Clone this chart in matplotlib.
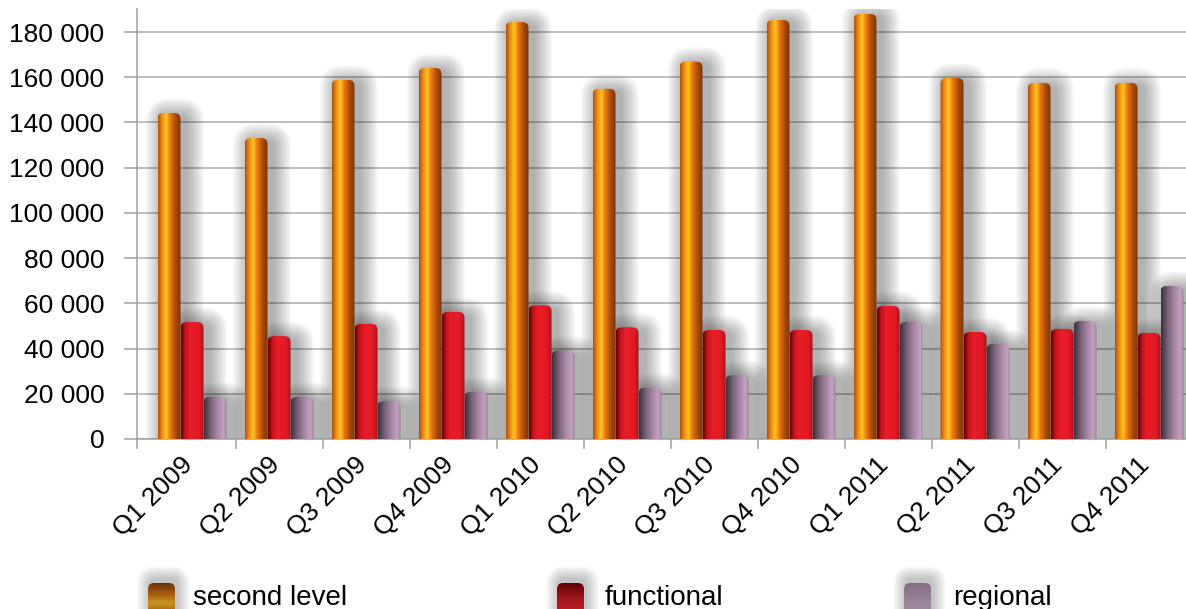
import numpy as np
import matplotlib.pyplot as plt
import matplotlib.transforms as mtransforms
from matplotlib.patches import FancyBboxPatch
from matplotlib.colors import LinearSegmentedColormap
from matplotlib.ticker import FuncFormatter, FixedLocator

plt.rcParams['font.family'] = ['Liberation Sans', 'DejaVu Sans']

# values
quarters = ['Q1 2009', 'Q2 2009', 'Q3 2009', 'Q4 2009',
            'Q1 2010', 'Q2 2010', 'Q3 2010', 'Q4 2010',
            'Q1 2011', 'Q2 2011', 'Q3 2011', 'Q4 2011']
series_names = ['second level', 'functional', 'regional']
second_level = [144200, 133100, 158800, 164100, 184400, 154900,
                166900, 185300, 188000, 159700, 157500, 157500]
functional = [51700, 45500, 50900, 56200, 59100, 49400,
              48200, 48200, 58800, 47300, 48700, 46900]
regional = [18600, 18600, 16800, 20800, 39100, 22700,
            28200, 28200, 51700, 42000, 52200, 67700]

# cylinder-like colour ramps, left edge -> right edge
orange_stops = [(0.0, '#a8520c'), (0.18, '#f0881c'), (0.36, '#ffc81e'),
                (0.52, '#ee7c12'), (0.78, '#a84a08'), (1.0, '#7c3304')]
red_stops = [(0.0, '#640000'), (0.2, '#c8161e'), (0.42, '#ea1c27'),
             (0.8, '#e01a24'), (1.0, '#a81016')]
purple_stops = [(0.0, '#3a2e3c'), (0.3, '#7a6478'), (0.65, '#ae8eac'),
                (0.85, '#c4a2c2'), (1.0, '#9c7e9a')]
cmaps = [LinearSegmentedColormap.from_list(n, s)
         for n, s in zip(series_names, [orange_stops, red_stops, purple_stops])]
# legend swatches are shaded top -> bottom
icon_stops = [
    [(0.0, '#8a3a04'), (0.3, '#e07a14'), (0.5, '#ffc41e'), (0.7, '#e07a14'), (1.0, '#8a3a04')],
    [(0.0, '#7a0006'), (0.35, '#c8141c'), (0.6, '#ea1c27'), (1.0, '#e01a24')],
    [(0.0, '#a88ca6'), (0.45, '#c6a8c6'), (0.7, '#ccb0cc'), (1.0, '#b498b2')],
]
icon_cmaps = [LinearSegmentedColormap.from_list(n + '_icon', s)
              for n, s in zip(series_names, icon_stops)]

W, H = 1186, 609
fig = plt.figure(figsize=(W / 100, H / 100), dpi=100)
ax = fig.add_axes([137 / W, 1 - 439 / H, 1 - 137 / W, (439 - 9.4) / H])

x = np.arange(len(quarters))
bar_w = 23 / 87
x_left = -55 / 87
x_right = x_left + (W - 137) / 87
ax.set_xlim(x_left, x_right)
ax.set_ylim(0, 190000)

# data units per pixel
p0 = ax.transData.transform((0, 0))
p1 = ax.transData.transform((1, 10000))
ux = 1 / (p1[0] - p0[0])
uy = 10000 / (p1[1] - p0[1])
aspect = uy / ux

grad = np.linspace(0, 1, 256).reshape(1, -1)
offsets = [-bar_w, 0, bar_w]
for vals, off, cmap in zip([second_level, functional, regional], offsets, cmaps):
    bars = ax.bar(x + off, vals, bar_w, color='none', zorder=3)
    for rect in bars:
        x0, w, h = rect.get_x(), rect.get_width(), rect.get_height()
        r = 6 * ux
        # soft drop shadow, pushed to the right
        for k in range(16):
            pad = 1 + k * 1.1
            sh = FancyBboxPatch((x0 + (6 - pad) * ux, -20 * uy), w + 2 * pad * ux,
                                h + (17 + pad) * uy,
                                boxstyle=f"round,pad=0,rounding_size={r + pad * ux}",
                                mutation_aspect=aspect, fc='#222222', ec='none',
                                alpha=0.024, zorder=2)
            ax.add_patch(sh)
        body = FancyBboxPatch((x0, -20 * uy), w, h + 20 * uy,
                              boxstyle=f"round,pad=0,rounding_size={r}",
                              mutation_aspect=aspect, fc='none', ec='none', zorder=3)
        ax.add_patch(body)
        im = ax.imshow(grad, cmap=cmap, extent=(x0, x0 + w, 0, h), aspect='auto',
                       interpolation='bilinear', zorder=3)
        im.set_clip_path(body)

ax.set_xlim(x_left, x_right)
ax.set_ylim(0, 190000)

# axes styling
for s in ['top', 'right']:
    ax.spines[s].set_visible(False)
for s in ['left', 'bottom']:
    ax.spines[s].set_color('#a0a0a0')
    ax.spines[s].set_linewidth(1.1)
ax.set_axisbelow(True)
ax.yaxis.grid(True, color='#b4b4b4', linewidth=1.2)

ax.set_yticks(np.arange(0, 180001, 20000))
ax.yaxis.set_major_formatter(FuncFormatter(lambda v, p: f"{v:,.0f}".replace(',', ' ')))
ax.tick_params(axis='y', length=9.5, width=1.1, color='#a0a0a0', pad=14, labelsize=19)

ax.set_xticks(x)
ax.set_xticklabels(quarters, rotation=45, ha='right', va='center', rotation_mode='anchor')
ax.tick_params(axis='x', which='major', length=0, pad=16, labelsize=19)
ax.xaxis.set_minor_locator(FixedLocator([x_left] + list(x + 0.5)))
ax.tick_params(axis='x', which='minor', length=7, width=1.1, color='#a0a0a0')
shift = mtransforms.ScaledTranslation(-3 / 100, 0, fig.dpi_scale_trans)
for lab in ax.get_xticklabels():
    lab.set_transform(lab.get_transform() + shift)

# legend drawn by hand along the bottom edge
lax = fig.add_axes([0, 0, 1, 1])
lax.set_xlim(0, W)
lax.set_ylim(H, 0)
lax.axis('off')
icon_x = [148, 557, 904]
text_x = [193, 605, 953]
vgrad = np.linspace(0, 1, 256).reshape(-1, 1)
for ix, tx, cmap, name in zip(icon_x, text_x, icon_cmaps, series_names):
    for k in range(10):
        pad = 1 + k * 1.3
        sh = FancyBboxPatch((ix + 2 - pad, 583 - 4 - pad), 27 + 2 * pad, 40 + 2 * pad,
                            boxstyle=f"round,pad=0,rounding_size={6 + pad}",
                            fc='#222222', ec='none', alpha=0.028)
        lax.add_patch(sh)
    icon = FancyBboxPatch((ix, 583), 27, 40, boxstyle="round,pad=0,rounding_size=6",
                          fc='none', ec='none')
    lax.add_patch(icon)
    im = lax.imshow(vgrad, cmap=cmap, extent=(ix, ix + 27, 623, 583), aspect='auto',
                    interpolation='bilinear')
    im.set_clip_path(icon)
    lax.text(tx, 605, name, fontsize=20, va='baseline', ha='left', color='black')
lax.set_xlim(0, W)
lax.set_ylim(H, 0)

fig.savefig('out.png', dpi=100)
